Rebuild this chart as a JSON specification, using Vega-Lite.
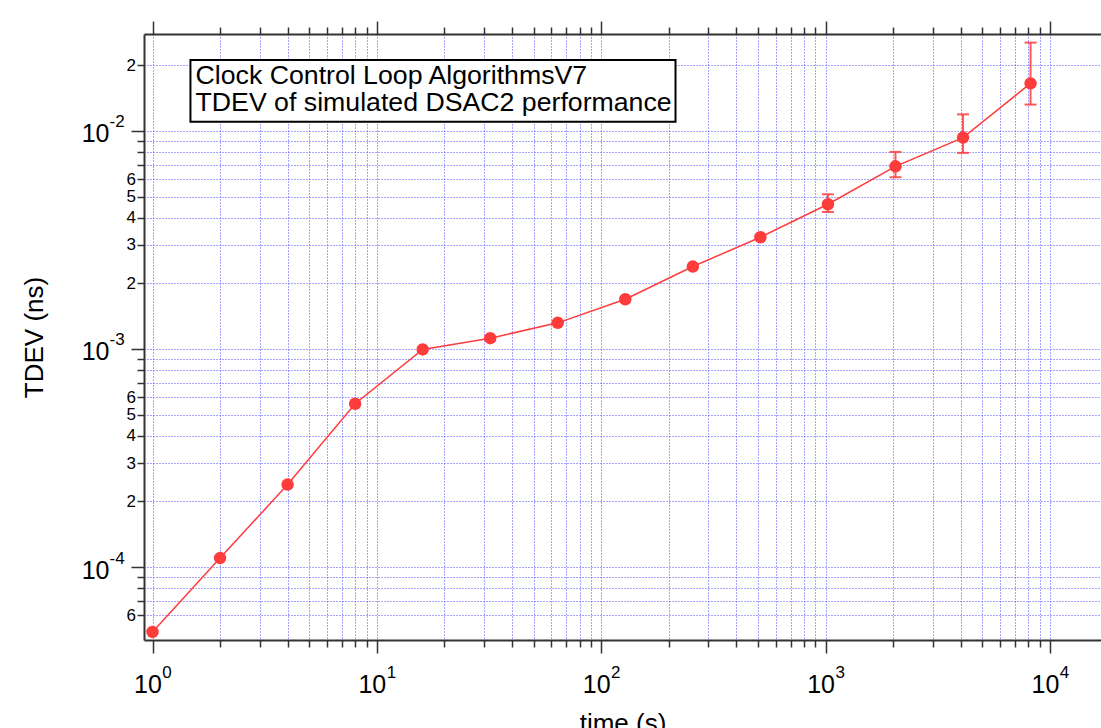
{
  "$schema": "https://vega.github.io/schema/vega-lite/v6.json",
  "width": 957,
  "height": 606,
  "autosize": "none",
  "padding": {"left": 144, "top": 34, "right": 0, "bottom": 88},
  "background": "white",
  "config": {
    "view": {"stroke": null},
    "font": "Liberation Sans",
    "axis": {"labelFont": "Liberation Sans", "titleFont": "Liberation Sans", "labelColor": "#000", "titleColor": "#000", "labelOverlap": false, "labelFlush": false, "labelBound": false}
  },
  "datasets": {
    "pts": [
      {"t": 1, "tdev": 5.04e-5},
      {"t": 2, "tdev": 1.10e-4},
      {"t": 4, "tdev": 2.39e-4},
      {"t": 8, "tdev": 5.61e-4},
      {"t": 16, "tdev": 9.95e-4},
      {"t": 32, "tdev": 1.121e-3},
      {"t": 64, "tdev": 1.318e-3},
      {"t": 128, "tdev": 1.691e-3},
      {"t": 256, "tdev": 2.388e-3},
      {"t": 512, "tdev": 3.254e-3},
      {"t": 1024, "tdev": 4.61e-3, "lo": 4.25e-3, "hi": 5.12e-3},
      {"t": 2048, "tdev": 6.88e-3, "lo": 6.13e-3, "hi": 8.01e-3},
      {"t": 4096, "tdev": 9.32e-3, "lo": 7.93e-3, "hi": 1.191e-2},
      {"t": 8192, "tdev": 1.652e-2, "lo": 1.32e-2, "hi": 2.54e-2}
    ],
    "note": [
      {"x": 1.555, "y": 0.01636, "label": "Clock Control Loop AlgorithmsV7"},
      {"x": 1.555, "y": 0.01234, "label": "TDEV of simulated DSAC2 performance"}
    ],
    "box": [
      {"x": 1.476, "x2": 214.3, "y": 0.02114, "y2": 0.01102}
    ]
  },
  "resolve": {"axis": {"x": "independent", "y": "independent"}},
  "layer": [
    {
      "data": {"name": "pts"},
      "mark": {"type": "line", "color": "#ff3c3c", "strokeWidth": 1.5},
      "encoding": {
        "x": {"field": "t", "type": "quantitative",
          "scale": {"type": "log", "domain": [0.9164, 16880], "nice": false, "zero": false},
          "axis": {"orient": "bottom",
            "values": [1,2,3,4,5,6,7,8,9,10,20,30,40,50,60,70,80,90,100,200,300,400,500,600,700,800,900,1000,2000,3000,4000,5000,6000,7000,8000,9000,10000],
            "labels": false, "ticks": true,
            "tickSize": {"condition": {"test": "abs(log(datum.value)/LN10 - round(log(datum.value)/LN10)) < 1e-6", "value": 13}, "value": 7},
            "tickWidth": 1.5, "tickColor": "#333",
            "domain": true, "domainColor": "#333", "domainWidth": 2,
            "grid": true, "gridColor": "#4a4aff", "gridDash": [1, 2], "gridWidth": 1, "gridOpacity": 1,
            "title": "time (s)", "titleFontSize": 26, "titleFontWeight": "normal", "titleY": 70, "titleBaseline": "top"}},
        "y": {"field": "tdev", "type": "quantitative",
          "scale": {"type": "log", "domain": [4.63e-5, 0.02782], "nice": false, "zero": false},
          "axis": {"orient": "left",
            "values": [6e-5,7e-5,8e-5,9e-5,1e-4,2e-4,3e-4,4e-4,5e-4,6e-4,7e-4,8e-4,9e-4,1e-3,2e-3,3e-3,4e-3,5e-3,6e-3,7e-3,8e-3,9e-3,1e-2,2e-2],
            "labels": false, "ticks": true,
            "tickSize": {"condition": {"test": "abs(log(datum.value)/LN10 - round(log(datum.value)/LN10)) < 1e-6", "value": 13}, "value": 7},
            "tickWidth": 1.5, "tickColor": "#333",
            "domain": true, "domainColor": "#333", "domainWidth": 2,
            "grid": true, "gridColor": "#4a4aff", "gridDash": [1, 2], "gridWidth": 1, "gridOpacity": 1,
            "title": "TDEV (ns)", "titleFontSize": 26, "titleFontWeight": "normal", "titleX": -97, "titleBaseline": "bottom"}}
      }
    },
    {
      "data": {"name": "pts"},
      "transform": [{"filter": "isValid(datum.hi)"}],
      "mark": {"type": "rule", "color": "#ff3c3c", "strokeWidth": 2, "opacity": 0.85},
      "encoding": {
        "x": {"field": "t", "type": "quantitative",
          "scale": {"type": "log", "domain": [0.9164, 16880], "nice": false, "zero": false},
          "axis": {"orient": "bottom", "values": [1, 10, 100, 1000, 10000], "labelExpr": "'10'",
            "ticks": false, "tickSize": 0, "domain": false, "grid": false,
            "labelFontSize": 25, "labelPadding": 32, "labelOffset": -5, "labelAlign": "center", "title": null}},
        "y": {"field": "lo", "type": "quantitative",
          "scale": {"type": "log", "domain": [4.63e-5, 0.02782], "nice": false, "zero": false},
          "axis": {"orient": "left", "values": [1e-4, 1e-3, 1e-2], "labelExpr": "'10'",
            "ticks": false, "tickSize": 0, "domain": false, "grid": false,
            "labelFontSize": 25, "labelPadding": 35, "labelOffset": 3, "labelAlign": "right", "labelBaseline": "middle", "title": null}},
        "y2": {"field": "hi"}
      }
    },
    {
      "data": {"name": "pts"},
      "transform": [{"filter": "isValid(datum.hi)"}],
      "mark": {"type": "tick", "orient": "horizontal", "color": "#ff3c3c", "size": 12, "thickness": 2, "opacity": 0.85},
      "encoding": {
        "x": {"field": "t", "type": "quantitative",
          "scale": {"type": "log", "domain": [0.9164, 16880], "nice": false, "zero": false},
          "axis": {"orient": "bottom", "values": [1, 10, 100, 1000, 10000], "labelExpr": "'' + round(log(datum.value)/LN10)",
            "ticks": false, "tickSize": 0, "domain": false, "grid": false,
            "labelFontSize": 17, "labelPadding": 24, "labelOffset": 14, "labelAlign": "center", "title": null}},
        "y": {"field": "hi", "type": "quantitative",
          "scale": {"type": "log", "domain": [4.63e-5, 0.02782], "nice": false, "zero": false},
          "axis": {"orient": "left", "values": [1e-4, 1e-3, 1e-2], "labelExpr": "'' + round(log(datum.value)/LN10)",
            "ticks": false, "tickSize": 0, "domain": false, "grid": false,
            "labelFontSize": 17, "labelPadding": 35, "labelOffset": -9, "labelAlign": "left", "labelBaseline": "middle", "title": null}}
      }
    },
    {
      "data": {"name": "pts"},
      "transform": [{"filter": "isValid(datum.lo)"}],
      "mark": {"type": "tick", "orient": "horizontal", "color": "#ff3c3c", "size": 12, "thickness": 2, "opacity": 0.85},
      "encoding": {
        "x": {"field": "t", "type": "quantitative",
          "scale": {"type": "log", "domain": [0.9164, 16880], "nice": false, "zero": false},
          "axis": null},
        "y": {"field": "lo", "type": "quantitative",
          "scale": {"type": "log", "domain": [4.63e-5, 0.02782], "nice": false, "zero": false},
          "axis": null}
      }
    },
    {
      "data": {"name": "pts"},
      "mark": {"type": "point", "filled": true, "color": "#ff3c3c", "size": 155, "opacity": 1},
      "encoding": {
        "x": {"field": "t", "type": "quantitative",
          "scale": {"type": "log", "domain": [0.9164, 16880], "nice": false, "zero": false},
          "axis": {"orient": "top",
            "values": [1,2,3,4,5,6,7,8,9,10,20,30,40,50,60,70,80,90,100,200,300,400,500,600,700,800,900,1000,2000,3000,4000,5000,6000,7000,8000,9000,10000],
            "labels": false, "ticks": true,
            "tickSize": {"condition": {"test": "abs(log(datum.value)/LN10 - round(log(datum.value)/LN10)) < 1e-6", "value": 13}, "value": 7},
            "tickWidth": 1.5, "tickColor": "#333",
            "domain": true, "domainColor": "#333", "domainWidth": 2, "grid": false, "title": null}},
        "y": {"field": "tdev", "type": "quantitative",
          "scale": {"type": "log", "domain": [4.63e-5, 0.02782], "nice": false, "zero": false},
          "axis": {"orient": "left", "values": [6e-5, 2e-4, 3e-4, 4e-4, 5e-4, 6e-4, 2e-3, 3e-3, 4e-3, 5e-3, 6e-3, 2e-2],
            "labelExpr": "'' + round(datum.value / pow(10, floor(log(datum.value)/LN10 + 1e-9)))",
            "ticks": false, "tickSize": 0, "domain": false, "grid": false,
            "labelFontSize": 17, "labelPadding": 8.5, "labelAlign": "right", "labelBaseline": "middle", "title": null}}
      }
    },
    {
      "data": {"name": "box"},
      "mark": {"type": "rect", "fill": "white", "stroke": "black", "strokeWidth": 2},
      "encoding": {
        "x": {"field": "x", "type": "quantitative", "scale": {"type": "log", "domain": [0.9164, 16880], "nice": false, "zero": false}, "axis": null},
        "x2": {"field": "x2"},
        "y": {"field": "y", "type": "quantitative", "scale": {"type": "log", "domain": [4.63e-5, 0.02782], "nice": false, "zero": false}, "axis": null},
        "y2": {"field": "y2"}
      }
    },
    {
      "data": {"name": "note"},
      "mark": {"type": "text", "align": "left", "baseline": "alphabetic", "fontSize": 26.7, "font": "Liberation Sans", "color": "black"},
      "encoding": {
        "x": {"field": "x", "type": "quantitative", "scale": {"type": "log", "domain": [0.9164, 16880], "nice": false, "zero": false}, "axis": null},
        "y": {"field": "y", "type": "quantitative", "scale": {"type": "log", "domain": [4.63e-5, 0.02782], "nice": false, "zero": false}, "axis": null},
        "text": {"field": "label"}
      }
    }
  ]
}
